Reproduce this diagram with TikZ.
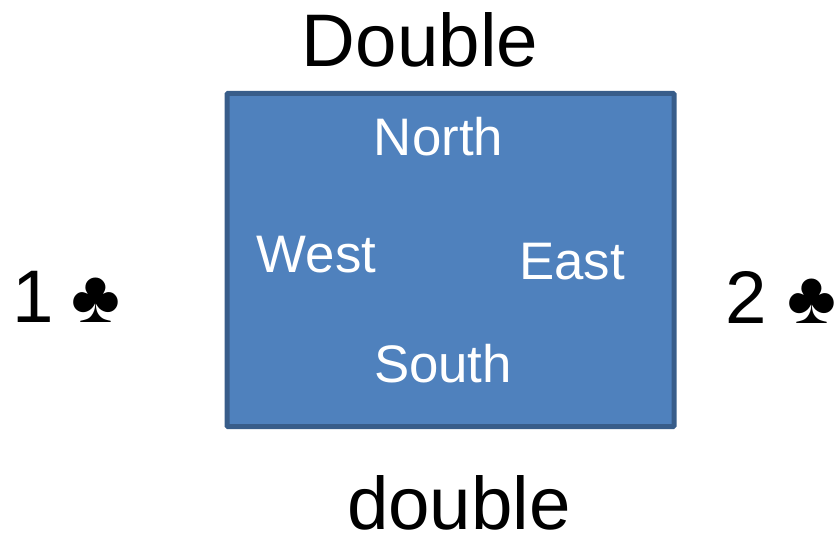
\documentclass[tikz,border=0pt]{standalone}
\usepackage{fontspec}
\setmainfont{Liberation Sans}
\usetikzlibrary{positioning}
\definecolor{boxfill}{RGB}{79,129,189}
\definecolor{boxline}{RGB}{56,93,138}
\tikzset{
    seat/.style={text=white, font=\fontsize{52.8}{52.8}\selectfont, inner sep=0pt},
    bid/.style={text=black, font=\fontsize{74.5}{74.5}\selectfont, inner sep=0pt}
}
\begin{document}
\begin{tikzpicture}[x=1pt, y=-1pt]
    \useasboundingbox (0,0) rectangle (837,534);

    % Table
    \node[draw=boxline, fill=boxfill, line width=5pt, rounded corners=1pt, minimum width=447pt, minimum height=333pt, inner sep=0pt] (table) at (450.5,260) {};

    % Seats
    \node[seat] (north) at (438.5,136.5) {North};
    \node[seat] (west) at (316.5,254.5) {West};
    \node[seat] (east) at (572,261.5) {East};
    \node[seat] (south) at (443,363.5) {South};

    % Bids
    \node[bid] (top) at (420,40) {Double};
    \node[bid] (bottom) at (459,503) {double};
    \node[bid] (left) at (66.5,297) {1\hspace{-3pt} ♣};
    \node[bid] (right) at (781,297) {2 ♣};
\end{tikzpicture}
\end{document}
